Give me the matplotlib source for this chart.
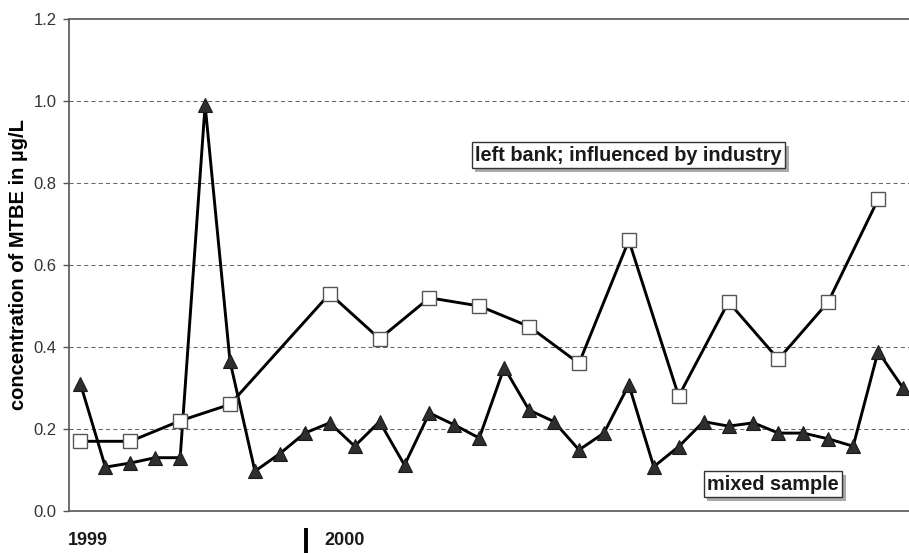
import matplotlib
matplotlib.use("Agg")
import matplotlib.pyplot as plt
import matplotlib.patheffects as pe
import matplotlib.transforms as mtransforms

plt.rcParams['font.family'] = ['Liberation Sans', 'DejaVu Sans']

# Sampling runs (index along the time axis)
mixed_idx = list(range(34))
mixed_vals = [0.31, 0.107, 0.117, 0.13, 0.13, 0.99, 0.365, 0.097, 0.14, 0.19,
              0.215, 0.158, 0.218, 0.112, 0.239, 0.21, 0.178, 0.35, 0.246, 0.218,
              0.149, 0.19, 0.308, 0.108, 0.157, 0.218, 0.207, 0.215, 0.19, 0.19,
              0.176, 0.158, 0.389, 0.30]

left_bank_idx = [0, 2, 4, 6, 10, 12, 14, 16, 18, 20, 22, 24, 26, 28, 30, 32]
left_bank_vals = [0.17, 0.17, 0.22, 0.26, 0.53, 0.42, 0.52, 0.50, 0.45, 0.36,
                  0.66, 0.28, 0.51, 0.37, 0.51, 0.76]

y_ticks = [0.0, 0.2, 0.4, 0.6, 0.8, 1.0, 1.2]
y_tick_labels = ["0.0", "0.2", "0.4", "0.6", "0.8", "1.0", "1.2"]
year_labels = ["1999", "2000"]
year_start_idx = [-0.5, 9.05]

fig = plt.figure(figsize=(9.09, 5.53), dpi=100)
ax = fig.add_axes([68.5 / 909, 42 / 553, 1 - 68.5 / 909, 492 / 553])

ax.set_xlim(-0.48, 33.24)
ax.set_ylim(0, 1.2)

# dashed horizontal grid
for y in y_ticks[1:-1]:
    ax.axhline(y, color='#666666', lw=0.75, dashes=(4, 3), zorder=1)

ax.plot(mixed_idx, mixed_vals, color='black', lw=2.1, marker='^', markersize=10.5,
        markerfacecolor='#2e2e2e', markeredgecolor='#1a1a1a', markeredgewidth=0.8,
        zorder=3, clip_on=False)
ax.plot(left_bank_idx, left_bank_vals, color='black', lw=2.1, marker='s', markersize=10.5,
        markerfacecolor='white', markeredgecolor='#555555', markeredgewidth=1.0,
        zorder=4)

for side in ['left', 'bottom', 'top']:
    ax.spines[side].set_color('#555555')
    ax.spines[side].set_linewidth(1.2)
ax.spines['right'].set_visible(False)

ax.set_yticks(y_ticks)
ax.set_yticklabels(y_tick_labels, fontsize=12, color='#333333')
ax.tick_params(axis='y', direction='out', length=4.5, width=1, color='#555555', pad=4)
ax.set_xticks([])

ax.set_ylabel("concentration of MTBE in µg/L", fontsize=14.5, fontweight='bold',
              labelpad=4)

# year markers under the axis
trans = mtransforms.blended_transform_factory(ax.transData, ax.transAxes)
ax.text(year_start_idx[0], -0.06, year_labels[0], transform=trans, ha='left',
        va='center', fontsize=13, fontweight='bold', color='#1a1a1a')
ax.plot([year_start_idx[1]] * 2, [-0.034, -0.09], transform=trans, color='black',
        lw=2.8, clip_on=False, solid_capstyle='butt')
ax.text(year_start_idx[1] + 0.72, -0.06, year_labels[1], transform=trans, ha='left',
        va='center', fontsize=13, fontweight='bold', color='#1a1a1a')

shadow = [pe.SimplePatchShadow(offset=(2.5, -2.5), shadow_rgbFace='#888888', alpha=0.7),
          pe.Normal()]
box = dict(boxstyle='square,pad=0.18', facecolor='white', edgecolor='#333333', linewidth=1.0)
for label, x, y in [("left bank; influenced by industry", 21.98, 0.868),
                    ("mixed sample", 27.78, 0.065)]:
    t = ax.text(x, y, label, ha='center', va='center', fontsize=14.3, fontweight='bold',
                color='#1a1a1a', bbox=box, zorder=6)
    t.get_bbox_patch().set_path_effects(shadow)

fig.savefig("out.png", dpi=100)
